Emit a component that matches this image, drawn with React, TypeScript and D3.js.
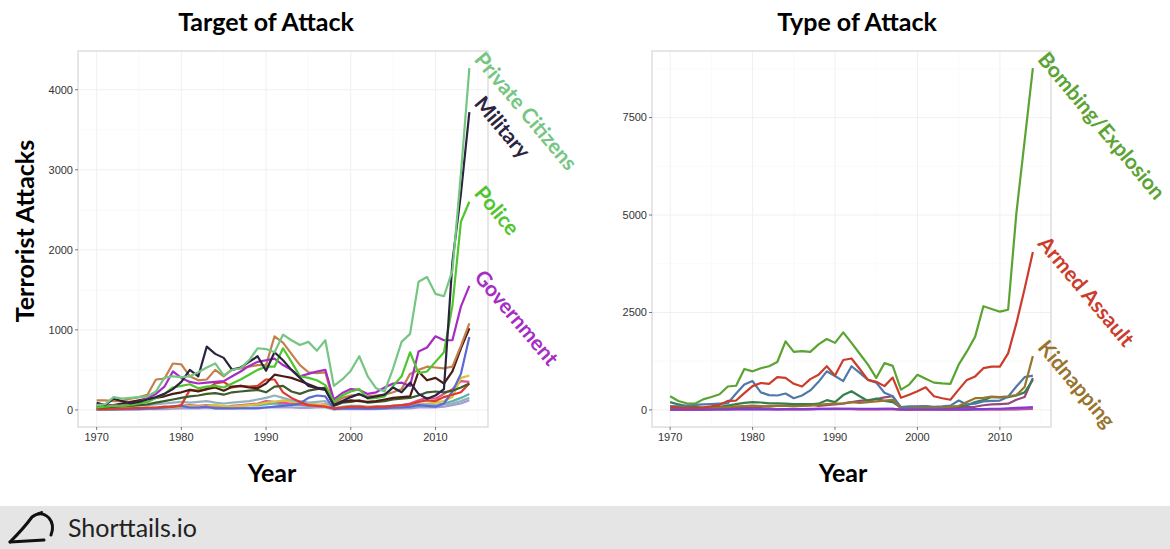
import React, { useEffect } from "react";
import * as d3 from "d3";

// years 1970..2014
const years = d3.range(1970, 2015);

const xTicks = [1970, 1980, 1990, 2000, 2010];
const targetTicks = [0, 1000, 2000, 3000, 4000];
const typeTicks = [0, 2500, 5000, 7500];

// ---- Target of Attack ----
const privateCitizens = [60, 70, 160, 140, 150, 160, 170, 230, 400, 420, 410, 420, 470, 530, 580, 430, 500, 520, 620, 770, 760, 720, 940, 870, 810, 850, 740, 870, 300, 380, 490, 670, 420, 270, 230, 520, 850, 950, 1600, 1660, 1450, 1420, 1740, 2950, 4270];
const military = [90, 60, 140, 110, 80, 100, 130, 160, 200, 260, 350, 500, 420, 790, 700, 650, 500, 530, 600, 670, 490, 720, 620, 500, 400, 300, 270, 250, 60, 110, 160, 200, 150, 170, 190, 280, 220, 340, 200, 140, 180, 260, 1850, 2700, 3720];
const police = [30, 40, 50, 50, 60, 80, 100, 150, 200, 280, 300, 320, 270, 290, 300, 280, 330, 380, 440, 500, 540, 540, 770, 600, 420, 400, 370, 310, 100, 180, 230, 260, 140, 150, 170, 300, 420, 720, 460, 480, 600, 720, 1300, 2350, 2600];
const government = [40, 50, 60, 50, 70, 100, 150, 200, 290, 480, 400, 350, 330, 340, 350, 360, 420, 480, 550, 600, 620, 640, 560, 500, 420, 450, 480, 500, 130, 210, 260, 250, 200, 220, 280, 330, 340, 300, 730, 780, 920, 870, 870, 1290, 1550];
const business = [120, 120, 110, 110, 140, 160, 190, 380, 390, 580, 570, 420, 370, 380, 500, 420, 510, 520, 540, 560, 560, 920, 840, 700, 560, 470, 460, 470, 80, 150, 180, 190, 170, 180, 190, 220, 260, 450, 500, 540, 530, 520, 540, 800, 1080];
const unknownTarget = [60, 50, 60, 80, 100, 120, 140, 150, 170, 200, 220, 250, 230, 260, 280, 240, 290, 300, 280, 270, 330, 440, 420, 400, 360, 320, 280, 260, 60, 100, 120, 110, 100, 110, 130, 150, 160, 170, 480, 370, 400, 330, 480, 770, 1020];
const transportation = [30, 30, 40, 50, 50, 60, 70, 90, 110, 130, 150, 170, 180, 200, 210, 190, 220, 230, 240, 250, 220, 290, 300, 230, 200, 240, 260, 280, 50, 90, 100, 120, 90, 100, 110, 130, 140, 150, 180, 220, 230, 220, 240, 280, 330];
const utilities = [10, 10, 15, 20, 20, 25, 30, 30, 40, 40, 60, 250, 240, 260, 330, 350, 280, 300, 290, 300, 380, 380, 220, 150, 100, 60, 50, 40, 20, 30, 40, 40, 30, 40, 40, 50, 60, 70, 100, 120, 110, 160, 190, 220, 330];
const religious = [5, 5, 5, 10, 10, 10, 15, 20, 30, 40, 50, 30, 30, 40, 20, 20, 20, 20, 20, 20, 30, 40, 50, 60, 80, 150, 180, 170, 10, 20, 20, 20, 15, 20, 20, 30, 30, 40, 60, 50, 40, 80, 230, 450, 910];
const educational = [20, 20, 30, 40, 50, 60, 60, 70, 80, 90, 100, 90, 100, 110, 90, 80, 90, 100, 110, 130, 150, 180, 150, 120, 110, 90, 100, 110, 20, 40, 50, 50, 40, 40, 40, 50, 50, 60, 70, 70, 60, 70, 80, 110, 150];
const diplomatic = [5, 5, 10, 10, 10, 15, 20, 20, 30, 30, 40, 50, 40, 50, 60, 50, 40, 50, 60, 70, 90, 100, 120, 100, 90, 80, 70, 60, 20, 30, 40, 30, 30, 40, 40, 50, 60, 60, 70, 80, 90, 110, 160, 400, 430];
const journalists = [5, 5, 10, 10, 15, 15, 20, 20, 30, 40, 50, 60, 50, 60, 50, 40, 50, 60, 70, 80, 110, 100, 90, 80, 70, 60, 60, 70, 20, 30, 40, 40, 30, 30, 40, 50, 60, 80, 120, 150, 140, 200, 260, 360, 350];
const telecom = [5, 5, 5, 10, 10, 15, 20, 25, 30, 30, 40, 40, 45, 50, 40, 40, 45, 50, 60, 60, 70, 80, 70, 60, 60, 50, 60, 60, 10, 20, 25, 25, 20, 25, 25, 30, 35, 40, 50, 60, 60, 80, 110, 150, 200];
const ngo = [0, 0, 5, 5, 5, 5, 10, 10, 10, 15, 20, 20, 20, 25, 20, 20, 20, 25, 25, 30, 30, 35, 30, 30, 25, 25, 30, 30, 5, 10, 10, 10, 10, 10, 15, 15, 20, 20, 30, 30, 30, 40, 60, 80, 120];

const targetNames = ["NGO", "Telecommunication", "Journalists & Media", "Government (Diplomatic)", "Educational Institution", "Religious Figures/Institutions", "Utilities", "Transportation", "Unknown", "Business", "Government", "Police", "Military", "Private Citizens"];
const targetValues = [ngo, telecom, journalists, diplomatic, educational, religious, utilities, transportation, unknownTarget, business, government, police, military, privateCitizens];
const targetColors = ["#a59ad8", "#5fb3a8", "#e0528a", "#d8c33c", "#91b3bf", "#5a6ad4", "#df3a2c", "#3d5b2c", "#4a1c14", "#c3804b", "#a62dc4", "#4fc52e", "#2c2340", "#74c682"];
const targetLabels = ["Private Citizens", "Military", "Police", "Government"];

// ---- Type of Attack ----
const bombing = [350, 230, 170, 160, 270, 330, 400, 600, 620, 1050, 990, 1070, 1120, 1230, 1760, 1490, 1510, 1490, 1680, 1820, 1720, 1990, 1720, 1440, 1160, 820, 1200, 1130, 520, 650, 900, 800, 700, 680, 670, 1160, 1500, 1880, 2660, 2590, 2520, 2570, 5050, 6900, 8770];
const armedAssault = [80, 60, 50, 50, 60, 90, 130, 230, 240, 430, 610, 690, 670, 840, 820, 670, 600, 790, 900, 1120, 880, 1280, 1320, 1050, 770, 720, 610, 830, 310, 390, 480, 580, 350, 300, 260, 520, 770, 860, 1070, 1110, 1110, 1450, 2220, 3110, 4050];
const assassination = [100, 90, 110, 130, 140, 150, 160, 170, 420, 650, 740, 450, 380, 370, 420, 300, 370, 500, 720, 990, 870, 740, 1120, 950, 770, 700, 440, 350, 70, 90, 90, 100, 80, 90, 110, 240, 140, 160, 220, 230, 240, 340, 600, 840, 880];
const facility = [200, 140, 100, 80, 60, 70, 80, 110, 150, 180, 200, 190, 170, 170, 160, 150, 150, 140, 160, 250, 200, 380, 480, 350, 230, 290, 230, 200, 60, 70, 80, 90, 60, 60, 80, 90, 120, 200, 250, 330, 320, 330, 370, 450, 770];
const kidnapping = [20, 20, 30, 40, 50, 50, 60, 70, 90, 100, 110, 100, 90, 110, 100, 90, 100, 110, 130, 150, 160, 170, 200, 180, 200, 220, 240, 260, 30, 40, 50, 60, 50, 60, 80, 100, 200, 300, 310, 340, 330, 350, 380, 590, 1380];
const unknownType = [10, 10, 10, 20, 20, 20, 30, 40, 50, 60, 70, 80, 90, 100, 110, 120, 140, 150, 100, 120, 140, 160, 200, 230, 250, 280, 320, 350, 30, 40, 50, 50, 40, 50, 50, 60, 70, 80, 120, 140, 150, 160, 260, 330, 820];
const hijacking = [20, 15, 15, 10, 10, 10, 15, 15, 20, 20, 25, 20, 20, 15, 15, 20, 15, 15, 20, 20, 25, 20, 20, 15, 15, 10, 10, 10, 5, 5, 5, 5, 5, 5, 5, 5, 5, 10, 10, 10, 10, 15, 15, 20, 25];
const barricade = [10, 10, 10, 15, 15, 15, 20, 20, 25, 25, 30, 25, 25, 20, 20, 20, 20, 25, 25, 30, 30, 30, 25, 20, 20, 20, 25, 25, 5, 5, 10, 10, 10, 10, 10, 10, 10, 15, 15, 15, 15, 20, 20, 30, 40];
const unarmedAssault = [5, 5, 5, 5, 5, 10, 10, 10, 10, 15, 15, 15, 15, 15, 20, 20, 20, 20, 25, 25, 30, 30, 30, 30, 30, 30, 30, 30, 10, 10, 10, 10, 10, 10, 10, 15, 15, 20, 20, 30, 30, 40, 50, 60, 70];

const typeNames = ["Hijacking", "Hostage Taking (Barricade)", "Unknown", "Facility/Infrastructure Attack", "Assassination", "Kidnapping", "Unarmed Assault", "Armed Assault", "Bombing/Explosion"];
const typeValues = [hijacking, barricade, unknownType, facility, assassination, kidnapping, unarmedAssault, armedAssault, bombing];
const typeColors = ["#e0407e", "#c4549c", "#96497f", "#347f4c", "#4f7aa8", "#98742f", "#7d3fd4", "#cb3c2b", "#5ba332"];
const typeLabels = ["Bombing/Explosion", "Armed Assault", "Kidnapping"];

type PanelProps = {
  left: number;
  right: number;
  top: number;
  bottom: number;
  names: string[];
  values: number[][];
  colors: string[];
  yTicks: number[];
  labels: string[];
};

const tickFont = "Liberation Sans, Arial, sans-serif";

const Panel = ({ left, right, top, bottom, names, values, colors, yTicks, labels }: PanelProps) => {
  const maxV = d3.max(values, (s) => d3.max(s)) || 0;
  const padX = (2014 - 1970) * 0.05;
  const x = d3.scaleLinear().domain([1970 - padX, 2014 + padX]).range([left, right]);
  const y = d3.scaleLinear().domain([-maxV * 0.05, maxV * 1.05]).range([bottom, top]);
  const line = d3
    .line<number>()
    .x((_, i) => x(years[i]))
    .y((d) => y(d));

  const xMinor = xTicks.map((t) => t + 5).concat([1965]).filter((t) => x(t) > left && x(t) < right);
  const step = yTicks[1] - yTicks[0];
  const yMinor = yTicks.map((t) => t + step / 2).concat([-step / 2]).filter((t) => y(t) > top && y(t) < bottom);

  return (
    <g>
      <rect x={left} y={top} width={right - left} height={bottom - top} fill="#fff" />
      {xMinor.map((t) => (
        <line key={"xm" + t} x1={x(t)} x2={x(t)} y1={top} y2={bottom} stroke="#f6f6f6" strokeWidth={0.6} />
      ))}
      {yMinor.map((t) => (
        <line key={"ym" + t} x1={left} x2={right} y1={y(t)} y2={y(t)} stroke="#f6f6f6" strokeWidth={0.6} />
      ))}
      {xTicks.map((t) => (
        <line key={"xg" + t} x1={x(t)} x2={x(t)} y1={top} y2={bottom} stroke="#f0f0f0" strokeWidth={1} />
      ))}
      {yTicks.map((t) => (
        <line key={"yg" + t} x1={left} x2={right} y1={y(t)} y2={y(t)} stroke="#f0f0f0" strokeWidth={1} />
      ))}
      {values.map((s, i) => (
        <path key={names[i]} d={line(s) || ""} fill="none" stroke={colors[i]} strokeWidth={2.2} strokeLinejoin="round" />
      ))}
      <rect x={left} y={top} width={right - left} height={bottom - top} fill="none" stroke="#d6d6d6" strokeWidth={1.2} />
      {yTicks.map((t) => (
        <g key={"yt" + t}>
          <line x1={left - 3} x2={left} y1={y(t)} y2={y(t)} stroke="#555" strokeWidth={0.8} />
          <text x={left - 5} y={y(t)} dy="0.35em" textAnchor="end" fontSize={11} fill="#333" fontFamily={tickFont}>
            {t}
          </text>
        </g>
      ))}
      {xTicks.map((t) => (
        <g key={"xt" + t}>
          <line x1={x(t)} x2={x(t)} y1={bottom} y2={bottom + 3} stroke="#555" strokeWidth={0.8} />
          <text x={x(t)} y={bottom + 14} textAnchor="middle" fontSize={11} fill="#333" fontFamily={tickFont}>
            {t}
          </text>
        </g>
      ))}
      {labels.map((name) => {
        const i = names.indexOf(name);
        const s = values[i];
        const lx = x(2014) + 4;
        const ly = y(s[s.length - 1]) - 8;
        return (
          <text
            key={"lab" + name}
            transform={`translate(${lx},${ly}) rotate(50)`}
            fontSize={21}
            fontWeight={700}
            fill={colors[i]}
            fontFamily="Lato, sans-serif"
          >
            {name}
          </text>
        );
      })}
    </g>
  );
};

const App = () => {
  useEffect(() => {
    document.body.style.margin = "0";
  }, []);

  return (
    <svg width={1170} height={549} style={{ display: "block", position: "absolute", left: 0, top: 0 }} fontFamily="Lato, sans-serif">
      <rect width={1170} height={549} fill="#fff" />
      <text x={266} y={31} textAnchor="middle" fontSize={25} fontWeight={700} fill="#000">
        Target of Attack
      </text>
      <text x={857} y={31} textAnchor="middle" fontSize={25} fontWeight={700} fill="#000">
        Type of Attack
      </text>
      <text transform="translate(34,231) rotate(-90)" textAnchor="middle" fontSize={25} fontWeight={700} fill="#000">
        Terrorist Attacks
      </text>
      <text x={272} y={482} textAnchor="middle" fontSize={25} fontWeight={700} fill="#000">
        Year
      </text>
      <text x={843} y={482} textAnchor="middle" fontSize={25} fontWeight={700} fill="#000">
        Year
      </text>
      <Panel
        left={78}
        right={488}
        top={51}
        bottom={427}
        names={targetNames}
        values={targetValues}
        colors={targetColors}
        yTicks={targetTicks}
        labels={targetLabels}
      />
      <Panel
        left={652}
        right={1051}
        top={51}
        bottom={427}
        names={typeNames}
        values={typeValues}
        colors={typeColors}
        yTicks={typeTicks}
        labels={typeLabels}
      />
      {/* footer */}
      <rect x={0} y={506} width={1170} height={43} fill="#e5e5e5" />
      <path d="M10,542 L44,540" stroke="#111" strokeWidth={3} fill="none" strokeLinecap="round" />
      <path d="M10,542 Q24,528 32,517 Q41,510 49,518 Q55,525 51,535" stroke="#111" strokeWidth={3} fill="none" strokeLinecap="round" />
      <path d="M32,517 Q38,513 42,512" stroke="#111" strokeWidth={2} fill="none" strokeLinecap="round" />
      <text x={68} y={537} fontSize={25} fill="#222" fontFamily="Lato, sans-serif">
        Shorttails.io
      </text>
    </svg>
  );
};

export default App;
